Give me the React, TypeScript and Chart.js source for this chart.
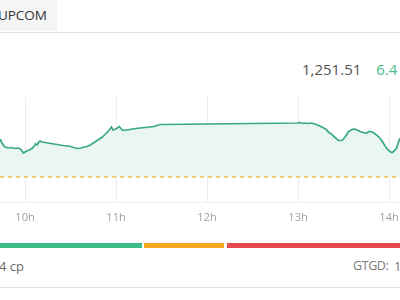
import React, { useEffect, useRef } from "react";
import { Chart, registerables } from "chart.js";

Chart.register(...registerables);

// Intraday index series (time of day, index value)
const times: string[] = [
  "09:43", "09:44", "09:46", "09:47", "09:49", "09:51", "09:53", "09:55", "09:57", "09:58",
  "09:59", "10:00", "10:01", "10:03", "10:05", "10:06", "10:07", "10:08", "10:09", "10:10",
  "10:11", "10:13", "10:15", "10:17", "10:19", "10:21", "10:23", "10:25", "10:27", "10:29",
  "10:31", "10:33", "10:35", "10:37", "10:39", "10:41", "10:43", "10:45", "10:47", "10:49",
  "10:51", "10:53", "10:55", "10:56", "10:57", "10:58", "10:59", "11:01", "11:02", "11:03",
  "11:04", "11:05", "11:07", "11:09", "11:11", "11:13", "11:16", "11:19", "11:22", "11:25",
  "11:27", "11:29", "11:30",
  "13:00", "13:01", "13:03", "13:05", "13:07", "13:09", "13:11", "13:13", "13:15", "13:17",
  "13:19", "13:20", "13:22", "13:24", "13:26", "13:27", "13:29", "13:30", "13:32", "13:33",
  "13:35", "13:37", "13:39", "13:41", "13:43", "13:45", "13:47", "13:49", "13:51", "13:53",
  "13:55", "13:57", "13:59", "14:01", "14:02", "14:03", "14:05", "14:06", "14:07", "14:09",
];
const values: number[] = [
  1252.6, 1252.2, 1251.2, 1251.0, 1250.8, 1250.9, 1250.7, 1250.8, 1250.6, 1250.2,
  1249.8, 1250.0, 1250.2, 1250.4, 1250.8, 1251.2, 1251.6, 1251.4, 1252.0, 1252.2,
  1252.0, 1251.9, 1251.8, 1251.7, 1251.6, 1251.5, 1251.4, 1251.3, 1251.2, 1251.2,
  1251.0, 1250.8, 1250.7, 1250.8, 1251.0, 1251.1, 1251.4, 1251.8, 1252.2, 1252.6,
  1253.0, 1253.6, 1254.2, 1254.6, 1255.0, 1254.4, 1254.5, 1254.8, 1255.1, 1254.8,
  1254.4, 1254.3, 1254.4, 1254.5, 1254.6, 1254.7, 1254.8, 1254.9, 1255.0, 1255.1,
  1255.3, 1255.5, 1255.5,
  1255.8, 1255.9, 1255.7, 1255.8, 1255.7, 1255.8, 1255.6, 1255.4, 1255.1, 1254.8,
  1254.4, 1254.0, 1253.6, 1253.0, 1252.5, 1252.3, 1252.3, 1252.6, 1253.4, 1254.0,
  1254.4, 1254.6, 1254.4, 1254.1, 1253.9, 1253.8, 1254.1, 1254.0, 1253.6, 1253.1,
  1252.4, 1251.4, 1250.5, 1250.0, 1249.9, 1250.1, 1250.8, 1251.8, 1252.6, 1253.2,
];
const referenceValue = 1245.0;
const tickTimes: string[] = ["10:00", "11:00", "12:00", "13:00", "14:00"];
const tickLabels: string[] = ["10h", "11h", "12h", "13h", "14h"];
const axisStart = "09:43.5";
const axisEnd = "14:07.25";
const yMin = 1240;
const yMax = 1261;

const tabLabel = "UPCOM";
const lastPrice = "1,251.51";
const change = "6.4";
const leftFooter = "4 cp";
const rightFooterLabel = "GTGD:";
const rightFooterValue = "1";

const toMin = (t: string) => {
  const [h, m] = t.split(":");
  return Number(h) * 60 + Number(m);
};

export default function App() {
  const ref = useRef<HTMLCanvasElement | null>(null);

  useEffect(() => {
    if (!ref.current) return;
    const xs = times.map(toMin);
    const tickMins = tickTimes.map(toMin);
    const chart = new Chart(ref.current, {
      type: "line",
      data: {
        datasets: [
          {
            data: [
              { x: toMin(axisStart), y: referenceValue },
              { x: toMin(axisEnd), y: referenceValue },
            ],
            borderColor: "#efc24a",
            borderWidth: 1.5,
            borderDash: [4, 4],
            pointRadius: 0,
            fill: false,
          },
          {
            data: xs.map((x, i) => ({ x, y: values[i] })),
            borderColor: "#3aa981",
            borderWidth: 1.7,
            pointRadius: 0,
            tension: 0,
            fill: { value: referenceValue },
            backgroundColor: "#e9f7f0",
          },
        ],
      },
      options: {
        animation: false,
        responsive: true,
        maintainAspectRatio: false,
        layout: { padding: 0, autoPadding: false },
        plugins: { legend: { display: false }, tooltip: { enabled: false } },
        scales: {
          x: {
            type: "linear",
            min: toMin(axisStart),
            max: toMin(axisEnd),
            afterBuildTicks: (scale: any) => {
              scale.ticks = tickMins.map((v) => ({ value: v }));
            },
            afterFit: (scale: any) => {
              scale.height = 31;
              scale.paddingLeft = 0;
              scale.paddingRight = 0;
            },
            ticks: {
              autoSkip: false,
              maxRotation: 0,
              padding: 0,
              color: "#a0a0a0",
              font: { family: "Open Sans", size: 11 },
              callback: (v: any) => {
                const i = tickMins.indexOf(Number(v));
                return i >= 0 ? tickLabels[i] : "";
              },
            },
            grid: {
              color: "#ececec",
              drawTicks: true,
              tickLength: 9,
              tickColor: "rgba(0,0,0,0)",
              lineWidth: 1,
            },
            border: { color: "#ececec" },
          },
          y: {
            display: false,
            min: yMin,
            max: yMax,
          },
        },
      },
    });
    return () => chart.destroy();
  }, []);

  const font = "'Open Sans', sans-serif";
  return (
    <div
      style={{
        position: "fixed",
        left: 0,
        top: 0,
        width: 400,
        height: 300,
        overflow: "hidden",
        background: "#fff",
        fontFamily: font,
      }}
    >
      <div
        style={{
          position: "absolute",
          left: 0,
          top: 0,
          width: 57,
          height: 31,
          background: "#f5f5f5",
        }}
      />
      <div
        style={{
          position: "absolute",
          right: 353,
          top: 5,
          fontSize: 13.5,
          lineHeight: "20px",
          color: "#333",
          whiteSpace: "nowrap",
        }}
      >
        {tabLabel}
      </div>
      <div
        style={{
          position: "absolute",
          left: 0,
          top: 32,
          width: 400,
          height: 1,
          background: "#e0e2f0",
        }}
      />
      <div
        style={{
          position: "absolute",
          left: 302,
          top: 59,
          fontSize: 15,
          lineHeight: "20px",
          whiteSpace: "nowrap",
        }}
      >
        <span style={{ color: "#555" }}>{lastPrice}</span>
        <span style={{ color: "#4dba8d", marginLeft: 15 }}>{change}</span>
      </div>
      <div
        style={{ position: "absolute", left: 0, top: 97, width: 400, height: 136 }}
      >
        <canvas ref={ref} />
      </div>
      <div style={{ position: "absolute", left: 0, top: 243, width: 142, height: 5, background: "#3dbd89" }} />
      <div style={{ position: "absolute", left: 144, top: 243, width: 80, height: 5, background: "#f6a821" }} />
      <div style={{ position: "absolute", left: 227, top: 243, width: 180, height: 5, background: "#e5494d" }} />
      <div
        style={{
          position: "absolute",
          left: -1,
          top: 256,
          fontSize: 13,
          lineHeight: "20px",
          color: "#6a6a6a",
          whiteSpace: "nowrap",
        }}
      >
        {leftFooter}
      </div>
      <div
        style={{
          position: "absolute",
          left: 353,
          top: 256,
          fontSize: 12.5,
          lineHeight: "20px",
          color: "#7a7a7a",
          whiteSpace: "nowrap",
          letterSpacing: -0.4,
        }}
      >
        {rightFooterLabel}
      </div>
      <div
        style={{
          position: "absolute",
          left: 394,
          top: 256,
          fontSize: 13,
          lineHeight: "20px",
          color: "#7a7a7a",
          whiteSpace: "nowrap",
        }}
      >
        {rightFooterValue}
      </div>
      <div
        style={{
          position: "absolute",
          left: 0,
          top: 287,
          width: 400,
          height: 1,
          background: "#d8e2ec",
        }}
      />
    </div>
  );
}
